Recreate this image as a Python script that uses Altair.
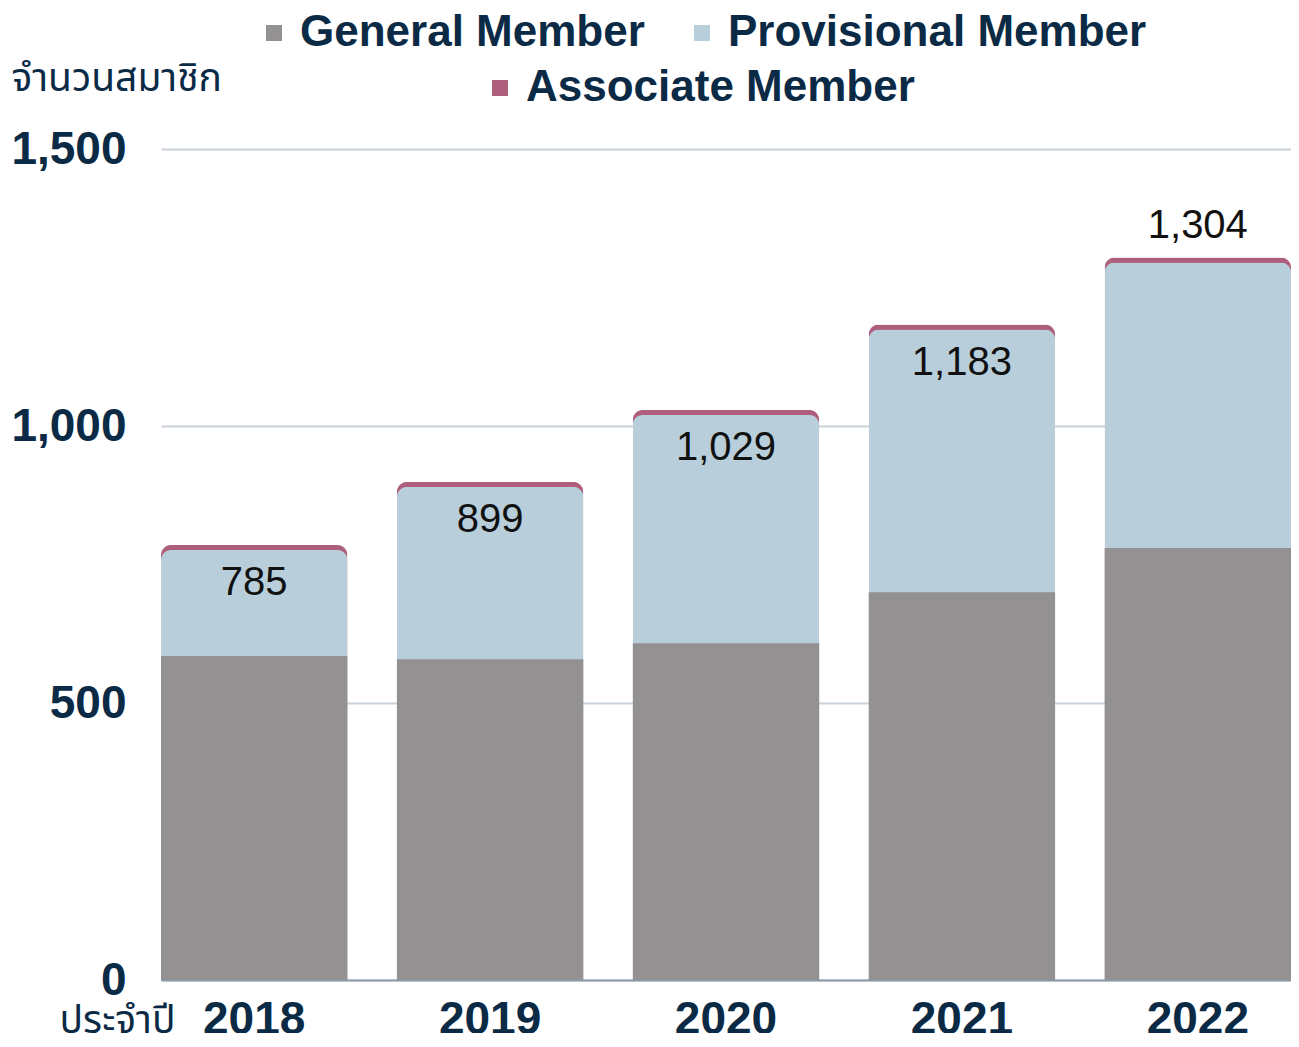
import altair as alt
import pandas as pd

years = ["2018", "2019", "2020", "2021", "2022"]
general = [585, 579, 608, 700, 780]
provisional = [191, 311, 412, 474, 515]
associate = [9, 9, 9, 9, 9]
series_names = ["General Member", "Provisional Member", "Associate Member"]

df = pd.DataFrame({
    "year": years,
    "general": general,
    "provisional": provisional,
    "associate": associate,
})

NAVY = "#0b2a45"
FONT = "Liberation Sans"
THAI = "Noto Sans Thai, Noto Sans, DejaVu Sans, sans-serif"

xaxis = alt.Axis(
    labelFont=FONT, labelFontSize=46, labelFontWeight="bold", labelColor=NAVY,
    labelAngle=0, labelPadding=17, ticks=False, domainColor="#8a9bab", domainWidth=2,
    title="ประจำปี", titleX=-102, titleY=40, titleAlign="left", titleBaseline="middle",
    titleFont=THAI, titleFontSize=39, titleFontWeight="normal", titleColor=NAVY,
)
yaxis = alt.Axis(
    values=[0, 500, 1000, 1500], format=",.0f",
    labelFont=FONT, labelFontSize=46, labelFontWeight="bold", labelColor=NAVY,
    labelPadding=35, ticks=False, domain=False, gridColor="#c9d1d9", gridWidth=2,
    title="จำนวนสมาชิก", titleAngle=0, titleX=-150, titleY=-71, titleAlign="left",
    titleBaseline="middle", titleFont=THAI, titleFontSize=39, titleFontWeight="normal",
    titleColor=NAVY,
)
xscale = alt.Scale(paddingInner=0.21, paddingOuter=0)
yscale = alt.Scale(domain=[0, 1500], nice=False)


def X():
    return alt.X("year:N", scale=xscale, axis=xaxis, title="ประจำปี")


def Y(field):
    return alt.Y(f"{field}:Q", scale=yscale, axis=yaxis, title="จำนวนสมาชิก")


leg_common = dict(
    orient="none", direction="horizontal", title=None,
    labelFont=FONT, labelFontSize=44, labelFontWeight="bold", labelColor=NAVY,
    labelLimit=1000,
    symbolType="square", symbolSize=256, symbolStrokeWidth=0, labelOffset=4,
    columnPadding=35, padding=0,
)
color_legend = alt.Legend(legendX=91, legendY=-138, **leg_common)
fill_legend = alt.Legend(legendX=317, legendY=-83, **leg_common)

color_scale = alt.Scale(domain=series_names[:2], range=["#939192", "#b8cedb"])
fill_scale = alt.Scale(domain=series_names[2:], range=["#ad5f7b"])

base = alt.Chart(df).transform_calculate(
    gp="datum.general + datum.provisional",
    total="datum.general + datum.provisional + datum.associate",
    s_gen=f"'{series_names[0]}'",
    s_prov=f"'{series_names[1]}'",
    s_assoc=f"'{series_names[2]}'",
)

pink = base.mark_bar(cornerRadiusTopLeft=10, cornerRadiusTopRight=10).encode(
    x=X(), y=Y("total"),
    fill=alt.Fill("s_assoc:N", scale=fill_scale, legend=fill_legend),
)
blue = base.mark_bar(cornerRadiusTopLeft=10, cornerRadiusTopRight=10).encode(
    x=X(), y=Y("gp"),
    color=alt.Color("s_prov:N", scale=color_scale, legend=color_legend),
)
grey = base.mark_bar().encode(
    x=X(), y=Y("general"),
    color=alt.Color("s_gen:N", scale=color_scale, legend=color_legend),
)

txt_inside = base.transform_filter(alt.datum.year != "2022").mark_text(
    dy=38, font=FONT, fontSize=40, color="#111111", baseline="middle"
).encode(x=X(), y=Y("total"), text=alt.Text("total:Q", format=","))
txt_above = base.transform_filter(alt.datum.year == "2022").mark_text(
    dy=-32, font=FONT, fontSize=40, color="#111111", baseline="middle"
).encode(x=X(), y=Y("total"), text=alt.Text("total:Q", format=","))

chart = alt.layer(pink, blue, grey, txt_inside, txt_above).properties(
    width=1130, height=831,
    padding={"left": 2, "top": 3, "right": 0, "bottom": -9},
).configure_view(stroke=None)

chart.save("out.html", embed_options={"renderer": "svg", "actions": False})
